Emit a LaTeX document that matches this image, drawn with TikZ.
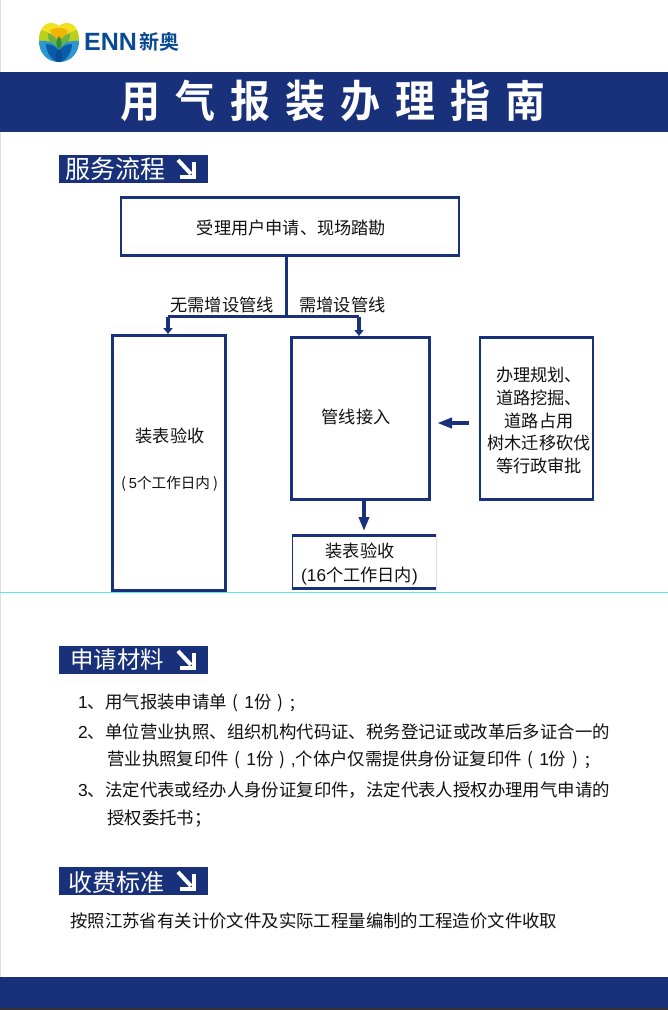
\documentclass[tikz,border=0pt]{standalone}
\usepackage{fontspec}
\setmainfont{Liberation Sans}
\newfontfamily\cjk{Noto Sans CJK SC}
\newfontfamily\cjkb{Noto Sans CJK SC Bold}
\usetikzlibrary{arrows.meta}
\definecolor{navy}{HTML}{19317A}
\definecolor{ink}{HTML}{111111}
\definecolor{lyellow}{HTML}{F0E020}
\definecolor{lorange}{HTML}{F2B400}
\definecolor{llime}{HTML}{B9CF1E}
\definecolor{lgreen}{HTML}{6DB33F}
\definecolor{ldgreen}{HTML}{2E8B3D}
\definecolor{lblue}{HTML}{2C96D2}
\definecolor{ldblue}{HTML}{0B5CA8}
\definecolor{lnavy}{HTML}{0A4A94}
\tikzset{
 x=1pt,y=-1pt,
 box/.style={draw=navy,line width=2.4pt,fill=white,inner sep=0pt},
 lab/.style={font=\fontsize{17.2}{22.8}\selectfont\cjk,text=ink,align=center,inner sep=0pt},
 body/.style={font=\fontsize{17.4}{20}\selectfont\cjk,text=ink,anchor=west,inner sep=0pt},
 head/.style={text=white,anchor=west,inner sep=0pt},
 flow/.style={draw=navy,line width=3pt},
 drop/.style={draw=navy,line width=4.5pt,-{Triangle[length=6pt,width=9pt]}},
}
\newcommand{\band}[2]{\fill[navy] (59,#1) rectangle (208,#2);}
\newcommand{\harrow}[1]{\draw[white,line width=4pt] (178,#1-9) -- (191,#1+5); \draw[white,line width=4pt] (193.5,#1-7) -- (193.5,#1+7.5) -- (180,#1+7.5);}
\newcommand{\pl}{\makebox[1em]{(}}
\newcommand{\pr}{\makebox[1em]{)}}
\newcommand{\sm}{\makebox[1em][l]{\hspace{.1em};}}
\newcommand{\dg}[1]{{\normalfont #1}}
\begin{document}
\begin{tikzpicture}
\useasboundingbox (0,0) rectangle (668,1010);
\fill[white] (0,0) rectangle (668,1010);
\draw[gray!25,line width=1pt] (0.5,0) -- (0.5,1010);
% logo
\begin{scope}
\clip (59,62) .. controls (46,62) and (39,52) .. (39,41) .. controls (39,31) and (43,23) .. (51,23) .. controls (55,23) and (58,25) .. (59,26) .. controls (60,25) and (63,23) .. (67,23) .. controls (75,23) and (79,31) .. (79,41) .. controls (79,52) and (72,62) .. (59,62) -- cycle;
\fill[lyellow] (35,20) rectangle (83,36);
\fill[llime] (35,30) .. controls (42,29) and (50,32) .. (59,42) .. controls (68,32) and (76,29) .. (83,30) -- (83,45) -- (35,45) -- cycle;
\fill[lorange] (50,31) .. controls (53,27) and (65,27) .. (68,31) .. controls (66,36) and (62,40) .. (59,42) .. controls (56,40) and (52,36) .. (50,31) -- cycle;
\fill[lgreen] (48,33) .. controls (52,34) and (56,38) .. (59,42) .. controls (62,38) and (66,34) .. (70,33) .. controls (71,39) and (68,45) .. (59,50) .. controls (50,45) and (47,39) .. (48,33) -- cycle;
\fill[lblue] (35,42) .. controls (44,39) and (54,41) .. (59,50) .. controls (64,41) and (74,39) .. (83,42) -- (83,66) -- (35,66) -- cycle;
\fill[ldblue] (46,44) .. controls (52,44) and (57,47) .. (59,51) .. controls (61,47) and (66,44) .. (72,44) .. controls (72,52) and (67,60) .. (59,63) .. controls (51,60) and (46,52) .. (46,44) -- cycle;
\fill[lnavy] (59,49) .. controls (63,53) and (64,58) .. (59,63) .. controls (54,58) and (55,53) .. (59,49) -- cycle;
\fill[ldgreen] (59,36) .. controls (56,40) and (55,45) .. (59,50) .. controls (63,45) and (62,40) .. (59,36) -- cycle;
\end{scope}
\node[font=\fontsize{25}{26}\selectfont\bfseries,text=lnavy,anchor=west,inner sep=0pt] (enn) at (84,42) {ENN};
\node[font=\fontsize{20}{22}\selectfont\cjkb,text=lnavy,anchor=west,inner sep=0pt] (xa) at (139,42) {新奥};
% title band
\fill[navy] (0,72) rectangle (668,132);
\node[font=\fontsize{40}{40}\selectfont\cjkb,text=white,inner sep=0pt] (title) at (333,101) {\scalebox{1}[1.1]{用\hspace{15pt}气\hspace{15pt}报\hspace{15pt}装\hspace{15pt}办\hspace{15pt}理\hspace{15pt}指\hspace{15pt}南}};
% headings
\band{155}{183}
\node[head,font=\fontsize{25}{26}\selectfont\cjk] (h1) at (65,169) {服务流程};
\harrow{169}
\band{646}{674}
\node[head,font=\fontsize{23.4}{26}\selectfont\cjk] (h2) at (70,660) {申请材料};
\harrow{660}
\band{867}{895}
\node[head,font=\fontsize{24}{26}\selectfont\cjk] (h3) at (68,882) {收费标准};
\harrow{881}
% flow
\node[box,line width=2.8pt,minimum width=338pt,minimum height=58pt] (a) at (290,226.5) {};
\node[lab] (at) at (291.5,228) {受理用户申请、现场踏勘};
\node[box,minimum width=113pt,minimum height=255pt] (b) at (169,463) {};
\node[lab] (bt1) at (170,436) {装表验收};
\node[lab,font=\fontsize{14.6}{20}\selectfont\cjk] (bt2) at (169.5,484) {(\hspace{3pt}\dg{5}个工作日内\hspace{3pt})};
\node[box,minimum width=138pt,minimum height=162pt] (c) at (360.5,418.5) {};
\node[lab] (ct) at (356,417) {管线接入};
\node[box,minimum width=113pt,minimum height=162pt] (d) at (536.5,418.5) {};
\node[lab] (dt) at (539,420.5) {办理规划、\\道路挖掘、\\道路占用\\树木迁移砍伐\\等行政审批};
\fill[white] (292,534) rectangle (436,589);
\draw[navy,line width=1pt] (292,534) -- (292,589);
\draw[navy!15,line width=1pt] (436,534) -- (436,589);
\draw[navy,line width=3pt] (291.5,535) -- (436,535) (291.5,588) -- (436,588);
\coordinate (eTop) at (364,531);
\node[lab] (e1) at (360,551) {装表验收};
\node[lab] (e2) at (359.5,576) {\dg{(16}个工作日内\dg{)}};
\coordinate (j) at (286,316.5);
\coordinate (bl) at (168,316.5);
\coordinate (br) at (359,316.5);
\coordinate (btop) at (168,334);
\coordinate (ctop) at (359,336);
\draw[flow] (a.south -| j) -- (j);
\draw[flow] (bl) -- (br);
\draw[drop] (bl) -- (btop);
\draw[drop] (br) -- (ctop);
\node[lab] (n1) at (222,305) {无需增设管线};
\node[lab] (n2) at (342.5,305) {需增设管线};
\coordinate (dl) at (469,423);
\coordinate (cr) at (437,423);
\draw[draw=navy,line width=4pt,-{Triangle[length=15pt,width=10pt]}] (dl) -- (cr);
\draw[draw=navy,line width=4.5pt,-{Triangle[length=14pt,width=10pt]}] (c.south -| eTop) -- (eTop);
% cyan line
\draw[color={rgb,255:red,90;green,230;blue,238},line width=1pt] (0,592.5) -- (668,592.5);
% materials
\node[body] (m1) at (78,702.5) {\dg{1}、用气报装申请单\pl\dg{1}份\pr\sm};
\node[body] (m2) at (78,732) {\dg{2}、单位营业执照、组织机构代码证、税务登记证或改革后多证合一的};
\node[body] (m2b) at (107,760) {营业执照复印件\pl\dg{1}份\pr\dg{,}个体户仅需提供身份证复印件\pl\dg{1}份\pr\sm};
\node[body] (m3) at (78,790) {\dg{3}、法定代表或经办人身份证复印件，法定代表人授权办理用气申请的};
\node[body] (m3b) at (107,819) {授权委托书；};
\node[body] (fee) at (70,921) {按照江苏省有关计价文件及实际工程量编制的工程造价文件收取};
% footer
\fill[navy] (0,977) rectangle (668,1008);
\fill[black!80] (0,1008) rectangle (668,1010);
\end{tikzpicture}
\end{document}
